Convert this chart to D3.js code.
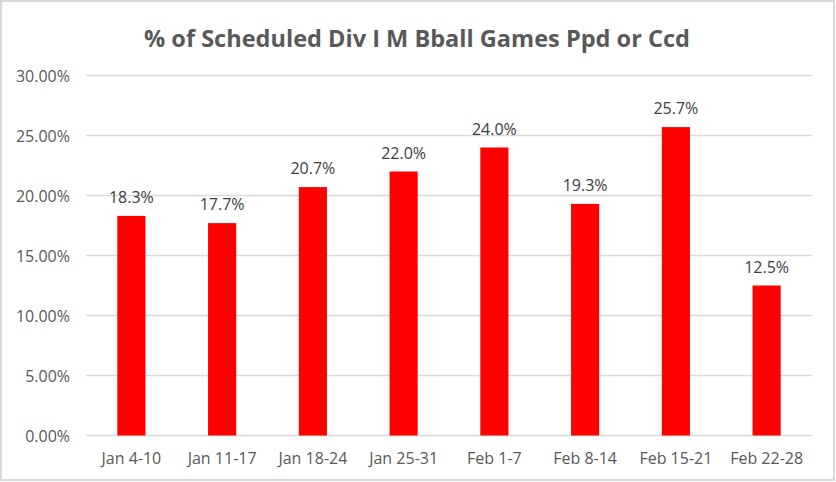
<!DOCTYPE html>
<html>
<head>
<meta charset="utf-8">
<script src="https://cdn.jsdelivr.net/npm/d3@7"></script>
<style>
  body { margin: 0; background: #fff; }
  text { font-family: "Open Sans", sans-serif; }
</style>
</head>
<body>
<div class="canvas"></div>
<script>
const title = '% of Scheduled Div I M Bball Games Ppd or Ccd';
const weeks = ['Jan 4-10', 'Jan 11-17', 'Jan 18-24', 'Jan 25-31', 'Feb 1-7', 'Feb 8-14', 'Feb 15-21', 'Feb 22-28'];
const pctValues = [18.3, 17.7, 20.7, 22.0, 24.0, 19.3, 25.7, 12.5];
const yTicks = [0, 5, 10, 15, 20, 25, 30];

const width = 836, height = 482;

const svg = d3.select('.canvas')
  .append('svg')
    .attr('width', width)
    .attr('height', height);

// chart frame
svg.append('rect')
  .attr('x', 1).attr('y', 1)
  .attr('width', width - 3).attr('height', height - 3)
  .attr('fill', '#fff')
  .attr('stroke', '#d9d9d9')
  .attr('stroke-width', 2);

svg.append('text')
  .attr('x', 417)
  .attr('y', 47)
  .attr('text-anchor', 'middle')
  .attr('fill', '#595959')
  .attr('font-size', 23)
  .attr('font-weight', 'bold')
  .attr('textLength', 546)
  .attr('lengthAdjust', 'spacingAndGlyphs')
  .text(title);

const margin = {top: 75.5, right: 24, bottom: 46.5, left: 86};
const x = d3.scaleBand()
  .domain(weeks)
  .range([margin.left, width - margin.right])
  .paddingInner(0.69)
  .paddingOuter(0.345);

const y = d3.scaleLinear()
  .domain([0, 30])
  .range([height - margin.bottom, margin.top]);

// gridlines
svg.append('g')
  .selectAll('line')
  .data(yTicks)
  .enter()
  .append('line')
    .attr('x1', margin.left)
    .attr('x2', width - margin.right)
    .attr('y1', d => y(d))
    .attr('y2', d => y(d))
    .attr('stroke', '#d9d9d9')
    .attr('stroke-width', 1.5);

// y labels
svg.append('g')
  .selectAll('text')
  .data(yTicks)
  .enter()
  .append('text')
    .attr('x', 70)
    .attr('y', d => y(d) + 6)
    .attr('text-anchor', 'end')
    .attr('fill', '#595959')
    .attr('font-size', 16)
    .text(d => d.toFixed(2) + '%');

// bars
svg.append('g')
  .selectAll('rect')
  .data(pctValues)
  .enter()
  .append('rect')
    .attr('x', (d, i) => x(weeks[i]))
    .attr('y', d => y(d))
    .attr('width', x.bandwidth())
    .attr('height', d => y(0) - y(d))
    .attr('fill', '#ff0000');

// value labels
svg.append('g')
  .selectAll('text')
  .data(pctValues)
  .enter()
  .append('text')
    .attr('x', (d, i) => x(weeks[i]) + x.bandwidth() / 2)
    .attr('y', d => y(d) - 13)
    .attr('text-anchor', 'middle')
    .attr('fill', '#404040')
    .attr('font-size', 16)
    .text(d => d.toFixed(1) + '%');

// category labels
svg.append('g')
  .selectAll('text')
  .data(weeks)
  .enter()
  .append('text')
    .attr('x', d => x(d) + x.bandwidth() / 2)
    .attr('y', 464)
    .attr('text-anchor', 'middle')
    .attr('fill', '#595959')
    .attr('font-size', 16)
    .text(d => d);
</script>
</body>
</html>
